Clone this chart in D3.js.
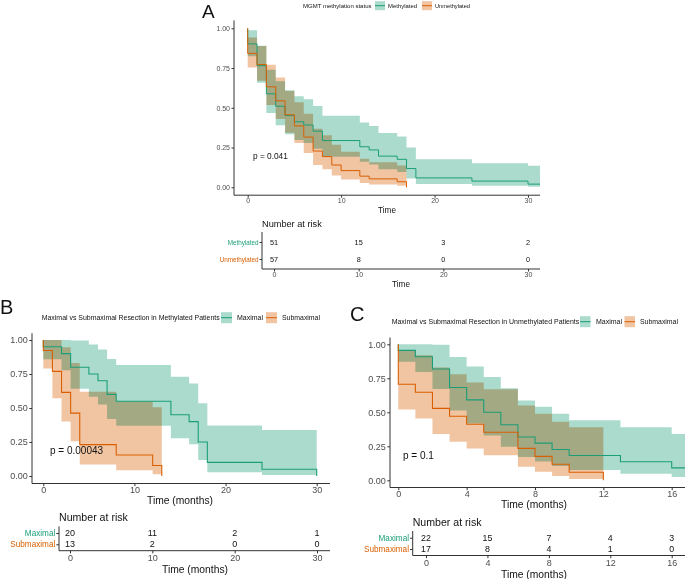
<!DOCTYPE html>
<html><head><meta charset="utf-8">
<script src="https://cdn.jsdelivr.net/npm/d3@7"></script>
<style>body{margin:0;background:#fff}svg{display:block}</style>
</head><body><svg id="c" width="685" height="579"></svg>
<script>
// ---------- DATA ----------
// Panel A: MGMT methylation status
const aMethTime  = [0, 1, 2, 3, 4, 5, 6, 7, 8, 12, 13, 14, 16, 17, 18, 24, 30];
const aMethSurv  = [0.902, 0.765, 0.588, 0.510, 0.451, 0.412, 0.392, 0.353, 0.294, 0.255, 0.235, 0.196, 0.176, 0.118, 0.059, 0.039, 0.020];
const aMethUpper = [0.988, 0.890, 0.740, 0.667, 0.610, 0.572, 0.553, 0.512, 0.450, 0.408, 0.386, 0.341, 0.319, 0.250, 0.176, 0.152, 0.136];
const aMethLower = [0.824, 0.657, 0.467, 0.390, 0.333, 0.297, 0.278, 0.243, 0.192, 0.160, 0.143, 0.113, 0.097, 0.055, 0.020, 0.010, 0.003];
const aMethEnd = 31.3;
const aUnmTime  = [0, 1, 2, 3, 4, 5, 6, 7, 8, 9, 10, 12, 13, 16, 17];
const aUnmSurv  = [0.842, 0.772, 0.632, 0.544, 0.456, 0.386, 0.316, 0.228, 0.193, 0.140, 0.105, 0.070, 0.053, 0.035, 0.0];
const aUnmUpper = [0.942, 0.889, 0.771, 0.690, 0.606, 0.535, 0.463, 0.368, 0.328, 0.267, 0.224, 0.180, 0.158, 0.137];
const aUnmLower = [0.753, 0.670, 0.518, 0.429, 0.343, 0.278, 0.215, 0.141, 0.113, 0.074, 0.049, 0.027, 0.018, 0.009];
const aTicks = [0, 10, 20, 30];
const aRows = ["Methylated", "Unmethylated"];
const aRisk = [[51, 15, 3, 2], [57, 8, 0, 0]];

// Panel B: Methylated patients
const bMaxTime  = [0, 2, 3, 5, 6, 7, 8, 14, 16, 17, 18, 24, 30];
const bMaxSurv  = [0.95, 0.90, 0.80, 0.75, 0.70, 0.60, 0.55, 0.45, 0.40, 0.25, 0.10, 0.05, 0.0];
const bMaxUpper = [1.0, 1.0, 0.996, 0.966, 0.93, 0.86, 0.817, 0.73, 0.68, 0.535, 0.372, 0.338];
const bMaxLower = [0.859, 0.778, 0.642, 0.582, 0.525, 0.42, 0.37, 0.278, 0.234, 0.117, 0.027, 0.007];
const bSubTime  = [0, 1, 2, 3, 4, 8, 12, 13];
const bSubSurv  = [0.923, 0.769, 0.615, 0.462, 0.231, 0.154, 0.077, 0.0];
const bSubUpper = [1.0, 1.0, 0.946, 0.83, 0.62, 0.55, 0.505];
const bSubLower = [0.79, 0.571, 0.40, 0.256, 0.085, 0.043, 0.012];
const bTicks = [0, 10, 20, 30];
const bRows = ["Maximal", "Submaximal"];
const bRisk = [[20, 11, 2, 1], [13, 2, 0, 0]];

// Panel C: Unmethylated patients
const cMaxTime  = [0, 1, 2, 3, 4, 5, 6, 7, 8, 9, 10, 13, 16];
const cMaxSurv  = [0.955, 0.909, 0.818, 0.682, 0.591, 0.50, 0.409, 0.318, 0.273, 0.227, 0.182, 0.136, 0.091];
const cMaxUpper = [1.0, 1.0, 0.996, 0.907, 0.837, 0.76, 0.676, 0.586, 0.54, 0.49, 0.442, 0.39, 0.341];
const cMaxLower = [0.871, 0.797, 0.672, 0.513, 0.417, 0.329, 0.247, 0.172, 0.138, 0.105, 0.075, 0.048, 0.024];
const cMaxEnd = 17.2;
const cSubTime  = [0, 1, 2, 3, 4, 5, 7, 8, 9, 10, 12];
const cSubSurv  = [0.706, 0.647, 0.529, 0.471, 0.412, 0.353, 0.235, 0.176, 0.118, 0.059, 0.0];
const cSubUpper = [0.957, 0.92, 0.83, 0.78, 0.72, 0.67, 0.55, 0.49, 0.43, 0.39];
const cSubLower = [0.52, 0.455, 0.34, 0.284, 0.233, 0.185, 0.10, 0.063, 0.032, 0.009];
const cTicks = [0, 4, 8, 12, 16];
const cRows = ["Maximal", "Submaximal"];
const cRisk = [[22, 15, 7, 4, 3], [17, 8, 4, 1, 0]];

const yTicks = [0, 0.25, 0.5, 0.75, 1];

// ---------- STYLE ----------
const GREEN = "#1b9e77", ORANGE = "#d95f02", ALPHA = 0.37;
const FONT = "'Liberation Sans', Arial, sans-serif";
const AX = "#333", TXT = "#4d4d4d";
const svg = d3.select("#c");

function curve(time, surv, upper, lower, color, end) {
  return {time, surv, upper, lower, color, end: end === undefined ? time[time.length - 1] : end};
}

function panel(G, curves, xTicks) {
  const x = d3.scaleLinear().domain([xTicks[0], xTicks[xTicks.length - 1]]).range([G.xa, G.xb]);
  const y = d3.scaleLinear().domain([0, 1]).range([G.ya, G.yb]);
  const cid = "clip" + G.id;
  svg.append("clipPath").attr("id", cid).append("rect")
    .attr("x", G.left).attr("y", G.top).attr("width", G.right - G.left).attr("height", G.bottom - G.top);
  const gp = svg.append("g").attr("clip-path", `url(#${cid})`);
  const gb = gp.append("g").style("isolation", "isolate");
  curves.forEach(c => {
    const n = c.upper.length;
    const pts = d3.range(n).map(i => ({t: c.time[i], u: c.upper[i], l: c.lower[i]}));
    const bandEnd = n < c.time.length ? c.time[n] : c.end;
    pts.push({t: bandEnd, u: c.upper[n - 1], l: c.lower[n - 1]});
    gb.append("path")
      .attr("d", d3.area().curve(d3.curveStepAfter).x(d => x(d.t)).y0(d => y(d.l)).y1(d => y(d.u))(pts))
      .attr("fill", c.color).attr("fill-opacity", ALPHA).style("mix-blend-mode", "multiply");
  });
  curves.forEach(c => {
    const pts = [{t: 0, s: 1}].concat(c.time.map((t, i) => ({t, s: c.surv[i]})));
    if (c.end > c.time[c.time.length - 1]) pts.push({t: c.end, s: c.surv[c.surv.length - 1]});
    gp.append("path")
      .attr("d", d3.line().curve(d3.curveStepAfter).x(d => x(d.t)).y(d => y(d.s))(pts))
      .attr("fill", "none").attr("stroke", c.color).attr("stroke-width", G.lw);
  });
  // axes
  const ay = svg.append("g").attr("transform", `translate(${G.left},0)`)
    .call(d3.axisLeft(y).tickValues(yTicks).tickFormat(d3.format(".2f")).tickSize(G.ts).tickPadding(G.tp));
  const axb = svg.append("g").attr("transform", `translate(0,${G.bottom})`)
    .call(d3.axisBottom(x).tickValues(xTicks).tickFormat(d3.format("d")).tickSize(G.ts));
  [ay, axb].forEach(a => {
    a.attr("font-family", FONT).attr("font-size", G.fs);
    a.select(".domain").remove();
    a.selectAll("line").attr("stroke", AX);
    a.selectAll("text").attr("fill", TXT);
  });
  axb.selectAll("text").attr("y", G.xlab).attr("dy", "0.35em");
  svg.append("line").attr("x1", G.left).attr("x2", G.left).attr("y1", G.top).attr("y2", G.bottom).attr("stroke", AX);
  svg.append("line").attr("x1", G.left).attr("x2", G.right).attr("y1", G.bottom).attr("y2", G.bottom).attr("stroke", AX);
  svg.append("text").attr("x", G.titleX).attr("y", G.titleY).attr("dy", "0.35em").attr("text-anchor", "middle")
    .attr("font-family", FONT).attr("font-size", G.titleFs).attr("fill", "#111").text(G.title);
  svg.append("text").attr("x", G.pX).attr("y", G.pY).attr("dy", "0.35em")
    .attr("font-family", FONT).attr("font-size", G.pFs).attr("fill", "#111").text(G.pText);
}

function legend(L, title, labels, colors) {
  svg.append("text").attr("x", L.tx).attr("y", L.y).attr("dy", "0.35em").attr("font-family", FONT)
    .attr("font-size", L.fs).attr("textLength", L.tw).attr("lengthAdjust", "spacingAndGlyphs").attr("fill", "#111").text(title);
  labels.forEach((lab, i) => {
    svg.append("rect").attr("x", L.kx[i]).attr("y", L.y - L.kh / 2).attr("width", L.kw).attr("height", L.kh)
      .attr("fill", colors[i]).attr("fill-opacity", ALPHA);
    svg.append("line").attr("x1", L.kx[i]).attr("x2", L.kx[i] + L.kw).attr("y1", L.y).attr("y2", L.y)
      .attr("stroke", colors[i]).attr("stroke-width", 1);
    svg.append("text").attr("x", L.lx[i]).attr("y", L.y).attr("dy", "0.35em").attr("font-family", FONT)
      .attr("font-size", L.fs).attr("textLength", L.lw[i]).attr("lengthAdjust", "spacingAndGlyphs").attr("fill", "#111").text(lab);
  });
}

function riskTable(T, rows, values, ticks, colors) {
  const x = d3.scaleLinear().domain([ticks[0], ticks[ticks.length - 1]]).range([T.xa, T.xb]);
  const y = d3.scalePoint().domain(rows).range([T.r0, T.r1]);
  svg.append("text").attr("x", T.left).attr("y", T.headY).attr("dy", "0.35em").attr("font-family", FONT)
    .attr("font-size", T.headFs).attr("fill", "#111").text("Number at risk");
  rows.forEach((r, i) => values[i].forEach((v, j) => {
    svg.append("text").attr("x", x(ticks[j])).attr("y", y(r)).attr("dy", "0.35em").attr("text-anchor", "middle")
      .attr("font-family", FONT).attr("font-size", T.numFs).attr("fill", "#111").text(v);
  }));
  const ay = svg.append("g").attr("transform", `translate(${T.left},0)`)
    .call(d3.axisLeft(y).tickSize(T.ts).tickPadding(1));
  ay.attr("font-family", FONT).attr("font-size", T.labFs);
  ay.select(".domain").remove();
  ay.selectAll("line").attr("stroke", AX);
  ay.selectAll("text").attr("fill", (d, i) => colors[i]);
  const axb = svg.append("g").attr("transform", `translate(0,${T.bottom})`)
    .call(d3.axisBottom(x).tickValues(ticks).tickFormat(d3.format("d")).tickSize(T.ts));
  axb.attr("font-family", FONT).attr("font-size", T.tickFs);
  axb.select(".domain").remove();
  axb.selectAll("line").attr("stroke", AX);
  axb.selectAll("text").attr("fill", TXT).attr("y", T.xlab).attr("dy", "0.35em");
  svg.append("line").attr("x1", T.left).attr("x2", T.left).attr("y1", T.top).attr("y2", T.bottom).attr("stroke", AX);
  svg.append("line").attr("x1", T.left).attr("x2", T.right).attr("y1", T.bottom).attr("y2", T.bottom).attr("stroke", AX);
  svg.append("text").attr("x", T.titleX).attr("y", T.titleY).attr("dy", "0.35em").attr("text-anchor", "middle")
    .attr("font-family", FONT).attr("font-size", T.titleFs).attr("fill", "#111").text(T.title);
}

function letter(t, x, y, fs) {
  svg.append("text").attr("x", x).attr("y", y).attr("font-family", FONT).attr("font-size", fs).attr("fill", "#111").text(t);
}

// ---------- PANEL A ----------
letter("A", 202, 18, 19);
legend({tx: 303, tw: 68.5, y: 5.7, fs: 6, kx: [375, 422], kw: 10, kh: 9, lx: [388, 435], lw: [29, 35]},
  "MGMT methylation status", aRows, [GREEN, ORANGE]);
panel({id: "A", xa: 247.7, xb: 528, ya: 187.3, yb: 28.3, left: 234, right: 540, top: 20.4, bottom: 195.2,
  ts: 2.5, tp: 1.5, fs: 7, xlab: 5, lw: 1, title: "Time", titleX: 387, titleY: 210, titleFs: 8.2,
  pText: "p = 0.041", pX: 253, pY: 156, pFs: 8.3},
  [curve(aMethTime, aMethSurv, aMethUpper, aMethLower, GREEN, aMethEnd),
   curve(aUnmTime, aUnmSurv, aUnmUpper, aUnmLower, ORANGE)], aTicks);
riskTable({xa: 274, xb: 528, r0: 242, r1: 259, left: 262, right: 540, top: 232, bottom: 269, ts: 2.5,
  headY: 224, headFs: 9.2, numFs: 7.3, labFs: 6.3, tickFs: 7, xlab: 6, title: "Time", titleX: 401, titleY: 284, titleFs: 8.2},
  aRows, aRisk, aTicks, [GREEN, ORANGE]);

// ---------- PANEL B ----------
letter("B", 0, 314, 20);
legend({tx: 41.7, tw: 178, y: 317.7, fs: 6.8, kx: [221, 266], kw: 11, kh: 11, lx: [237, 282], lw: [26, 38]},
  "Maximal vs Submaximal Resection in Methylated Patients", bRows, [GREEN, ORANGE]);
panel({id: "B", xa: 43.3, xb: 316.7, ya: 476, yb: 340, left: 32, right: 330, top: 333.2, bottom: 483.5,
  ts: 2.7, tp: 1.5, fs: 9, xlab: 6, lw: 1.1, title: "Time (months)", titleX: 180, titleY: 500, titleFs: 10.3,
  pText: "p = 0.00043", pX: 50, pY: 450, pFs: 10},
  [curve(bMaxTime, bMaxSurv, bMaxUpper, bMaxLower, GREEN),
   curve(bSubTime, bSubSurv, bSubUpper, bSubLower, ORANGE)], bTicks);
riskTable({xa: 70, xb: 317, r0: 533, r1: 544.3, left: 59, right: 330, top: 526.4, bottom: 550.7, ts: 2.7,
  headY: 517.3, headFs: 10.6, numFs: 9, labFs: 8.2, tickFs: 9, xlab: 7.5, title: "Time (months)", titleX: 195, titleY: 569, titleFs: 10.3},
  bRows, bRisk, bTicks, [GREEN, ORANGE]);

// ---------- PANEL C ----------
letter("C", 350, 321, 20);
legend({tx: 391.7, tw: 187.5, y: 321.7, fs: 6.8, kx: [580, 624.5], kw: 10.5, kh: 11, lx: [596, 640], lw: [26, 38]},
  "Maximal vs Submaximal Resection in Unmethylated Patients", cRows, [GREEN, ORANGE]);
panel({id: "C", xa: 398.3, xb: 671.7, ya: 480.3, yb: 344.3, left: 390, right: 685, top: 337.5, bottom: 487.5,
  ts: 2.7, tp: 1.5, fs: 9, xlab: 6, lw: 1.1, title: "Time (months)", titleX: 534, titleY: 504.5, titleFs: 10.3,
  pText: "p = 0.1", pX: 403, pY: 455, pFs: 10},
  [curve(cMaxTime, cMaxSurv, cMaxUpper, cMaxLower, GREEN, cMaxEnd),
   curve(cSubTime, cSubSurv, cSubUpper, cSubLower, ORANGE)], cTicks);
riskTable({xa: 426, xb: 671.7, r0: 537.7, r1: 549, left: 412.7, right: 685, top: 531, bottom: 555.5, ts: 2.7,
  headY: 522, headFs: 10.6, numFs: 8.8, labFs: 8.2, tickFs: 9, xlab: 7.5, title: "Time (months)", titleX: 534, titleY: 574, titleFs: 10.3},
  cRows, cRisk, cTicks, [GREEN, ORANGE]);
</script></body></html>
